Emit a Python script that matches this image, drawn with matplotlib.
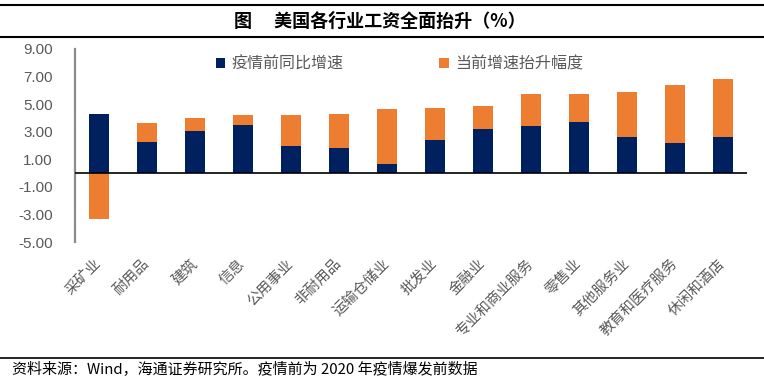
import numpy as np
import matplotlib
matplotlib.use("Agg")
import matplotlib.pyplot as plt
from matplotlib.lines import Line2D

plt.rcParams['font.family'] = ['Noto Sans CJK SC', 'DejaVu Sans']
plt.rcParams['axes.unicode_minus'] = False

# data
industries = ['采矿业', '耐用品', '建筑', '信息', '公用事业', '非耐用品', '运输仓储业',
              '批发业', '金融业', '专业和商业服务', '零售业', '其他服务业',
              '教育和医疗服务', '休闲和酒店']
pre_covid = [4.30, 2.27, 3.02, 3.48, 1.93, 1.82, 0.69, 2.42, 3.19, 3.45, 3.67, 2.65, 2.15, 2.65]
rise = [-3.31, 1.35, 0.97, 0.72, 2.30, 2.46, 3.97, 2.32, 1.64, 2.28, 2.08, 3.22, 4.23, 4.20]

navy = '#002060'
orange = '#ED7D31'
grey_txt = '#595959'

fig = plt.figure(figsize=(7.64, 3.86), dpi=100)
ax = fig.add_axes([75/764, 1-242/386, (747-75)/764, (242-49)/386])

x = np.arange(len(industries))
pre = np.array(pre_covid)
up = np.array(rise)
# negative rise is stacked from zero downwards (Excel style)
bottom = np.where(up >= 0, pre, 0)

ax.bar(x, pre, width=0.4, color=navy, label='疫情前同比增速', zorder=2)
ax.bar(x, up, width=0.4, bottom=bottom, color=orange, label='当前增速抬升幅度', zorder=2)
ax.axhline(0, color='black', linewidth=1.2, zorder=3)

ax.set_xlim(-0.5, len(industries) - 0.5)
ax.set_ylim(-5, 9)
ax.set_yticks(np.arange(-5, 10, 2))
ax.set_yticklabels(['%.2f' % v for v in np.arange(-5, 10, 2)],
                   fontfamily='Liberation Sans', fontsize=11, color=grey_txt)
ax.tick_params(axis='y', length=0, pad=16)
ax.tick_params(axis='x', length=0, pad=14)
ax.set_xticks(x)
ax.set_xticklabels(industries, rotation=45, ha='right', va='center',
                   rotation_mode='anchor', fontsize=10.5, color=grey_txt)

for s in ['top', 'right', 'bottom']:
    ax.spines[s].set_visible(False)
ax.spines['left'].set_color('#8c8c8c')
ax.spines['left'].set_linewidth(1.6)

ax.legend(loc='upper center', bbox_to_anchor=(0.483, 1.04), ncol=2, frameon=False,
          fontsize=11.5, handlelength=0.6, handleheight=0.6, handletextpad=0.4,
          columnspacing=6.0, labelcolor=grey_txt)

# title band and footer
fig.add_artist(Line2D([0, 1], [1-5/386, 1-5/386], color='black', linewidth=1.5))
fig.add_artist(Line2D([0, 1], [1-37/386, 1-37/386], color='black', linewidth=1.5))
fig.text(0.497, 1-21/386, '图\u3000 美国各行业工资全面抬升（%）', ha='center', va='center',
         fontsize=13, fontweight='bold', color='black')
fig.add_artist(Line2D([0, 1], [1-358/386, 1-358/386], color='black', linewidth=1.2))
fig.text(12/764, 1-370/386, '资料来源：Wind，海通证券研究所。疫情前为 2020 年疫情爆发前数据',
         ha='left', va='center', fontsize=10.8, color='black')

fig.savefig('out.png', dpi=100)
